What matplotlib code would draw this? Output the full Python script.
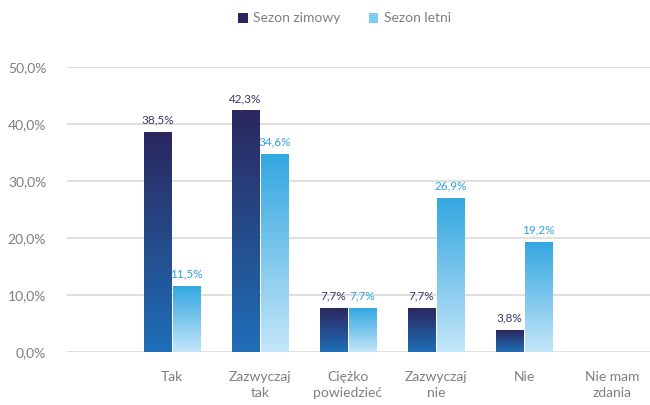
import matplotlib
matplotlib.use("Agg")
import matplotlib.pyplot as plt
import numpy as np
from matplotlib.colors import LinearSegmentedColormap
from matplotlib.patches import Patch

categories = ["Tak", "Zazwyczaj\ntak", "Ciężko\npowiedzieć", "Zazwyczaj\nnie", "Nie", "Nie mam\nzdania"]
winter = [38.5, 42.3, 7.7, 7.7, 3.8, 0.0]
summer = [11.5, 34.6, 7.7, 26.9, 19.2, 0.0]
series_names = ["Sezon zimowy", "Sezon letni"]
yticks = [0, 10, 20, 30, 40, 50]

plt.rcParams['font.family'] = ['Lato', 'DejaVu Sans']

fig = plt.figure(figsize=(6.5, 4.05), dpi=100)
ax = fig.add_axes([67/650, 53/405, 583/650, 285/405])

w_top, w_bot = "#2b275e", "#1f6fb8"
s_top, s_bot = "#33a7e0", "#c4e6f9"
cm_w = LinearSegmentedColormap.from_list("w", [w_bot, w_top])
cm_s = LinearSegmentedColormap.from_list("s", [s_bot, s_top])

x = np.arange(len(categories))
bw = 28/88
gap = 1/88
bars_w = ax.bar(x - bw/2 - gap/2, winter, bw, color="none", zorder=3)
bars_s = ax.bar(x + bw/2 + gap/2, summer, bw, color="none", zorder=3)

grad = np.linspace(0, 1, 256).reshape(-1, 1)
for bars, cm in ((bars_w, cm_w), (bars_s, cm_s)):
    for b in bars:
        h = b.get_height()
        if h <= 0:
            continue
        x0 = b.get_x()
        ax.imshow(grad, extent=[x0, x0 + b.get_width(), 0, h], origin="lower",
                  cmap=cm, aspect="auto", zorder=3, interpolation="bilinear")

def fmt(v):
    return f"{v:.1f}%".replace(".", ",")

for b, v in zip(bars_w, winter):
    if v > 0:
        ax.annotate(fmt(v), (b.get_x() + b.get_width()/2, v), xytext=(0, 5),
                    textcoords="offset points", ha="center", va="bottom",
                    fontsize=8.5, color="#3a3668")
for b, v in zip(bars_s, summer):
    if v > 0:
        ax.annotate(fmt(v), (b.get_x() + b.get_width()/2, v), xytext=(0, 5),
                    textcoords="offset points", ha="center", va="bottom",
                    fontsize=8.5, color="#2fa3df")

ax.set_ylim(0, 50)
ax.set_yticks(yticks)
ax.set_yticklabels([f"{t:.1f}%".replace(".", ",") for t in yticks])
ax.set_xticks(x)
ax.set_xticklabels(categories, linespacing=1.35)
ax.grid(axis="y", color="#d9d9d9", linewidth=1.2, zorder=0)
ax.set_axisbelow(True)
for s in ax.spines.values():
    s.set_visible(False)
ax.tick_params(axis="both", length=0, colors="#7f7f7f", labelsize=10)
ax.tick_params(axis="y", pad=15)
ax.tick_params(axis="x", pad=14)
ax.set_xlim(-105/88, -105/88 + 583/88)

handles = [Patch(facecolor=w_top), Patch(facecolor="#7dcdf3")]
fig.legend(handles, series_names, loc="upper center", bbox_to_anchor=(0.53, 1.0),
           ncol=2, frameon=False, fontsize=10, labelcolor="#7f7f7f",
           handlelength=0.7, handleheight=0.7, handletextpad=0.4, columnspacing=2.0)

fig.savefig("out.png", dpi=100)
